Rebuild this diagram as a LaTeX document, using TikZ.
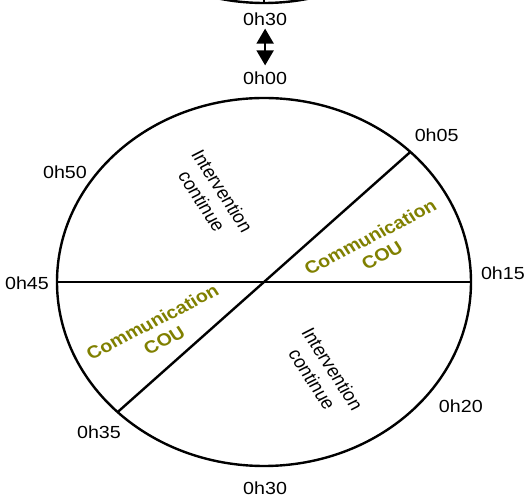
\documentclass[tikz,border=0pt]{standalone}
\usepackage{fontspec}
\setmainfont{Liberation Sans}
\usetikzlibrary{arrows.meta}
\definecolor{olivetxt}{HTML}{808000}

\begin{document}
\begin{tikzpicture}[x=1pt,y=1pt,
  rim/.style={line width=2.4pt},
  lbl/.style={font=\fontsize{17.5}{21}\selectfont, inner sep=0pt},
  zone/.style={font=\fontsize{17.5}{21}\selectfont, align=center, inner sep=0pt, rotate=-60},
  com/.style={font=\fontsize{17.5}{21}\selectfont\bfseries, text=olivetxt, align=center, inner sep=0pt, rotate=30},
  swap/.style={line width=2pt, {Triangle[width=17pt,length=15pt]}-{Triangle[width=17pt,length=15pt]}}]
\useasboundingbox (-264,-218) rectangle (261,282);
\begin{scope}[xscale=1.125, every node/.append style={transform shape}]
  % previous dial, only its lower edge shows
  \draw[rim] (0,463) ++(250:184) arc[start angle=250, end angle=290, radius=184];
  \draw[line width=1.5pt] (0,279) -- (0,290);

  % link between the two dials
  \node[lbl] (top30) at (1,263) {0h30};
  \node[lbl] (h00) at (1,204) {0h00};
  \draw[swap] ([yshift=-3pt]top30.south) -- ([yshift=6pt]h00.north);

  % main dial
  \draw[rim] (0,0) coordinate (c) circle[radius=184];
  \coordinate (p15) at (0:184);
  \coordinate (p45) at (180:184);
  \coordinate (p05) at (45:184);
  \coordinate (p35) at (225:184);
  \draw[rim] (p45) -- (p15);
  \draw[rim] (p35) -- (p05);

  % minute marks
  \node[lbl] (h05) at (153.5,147) {0h05};
  \node[lbl] (h15) at (212.4,9) {0h15};
  \node[lbl] (h20) at (175,-124) {0h20};
  \node[lbl] (h30) at (1,-206) {0h30};
  \node[lbl] (h35) at (-146.7,-150) {0h35};
  \node[lbl] (h45) at (-210.7,-1) {0h45};
  \node[lbl] (h50) at (-176.9,110) {0h50};

  % sectors
  \node[zone] (int1) at (-46,86) {Intervention\\continue};
  \node[zone] (int2) at (52,-92) {Intervention\\continue};
  \node[com] (com1) at (99.6,36) {Communication\\COU};
  \node[com] (com2) at (-94,-49) {Communication\\COU};
\end{scope}
\end{tikzpicture}
\end{document}
